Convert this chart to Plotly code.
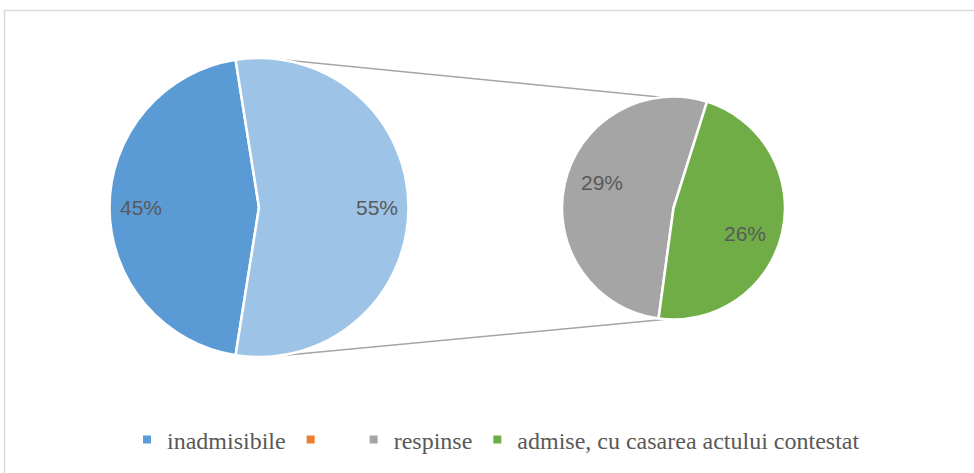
import math
import plotly.graph_objects as go

categories = ["inadmisibile", "respinse", "admise, cu casarea actului contestat"]
values = [45, 29, 26]
legend_names = ["inadmisibile", "", "respinse", "admise, cu casarea actului contestat"]
legend_colors = ["#5B9BD5", "#ED7D31", "#A5A5A5", "#70AD47"]

W, H = 974, 473
C1, R1 = (259.0, 207.5), 149.5
C2, R2 = (673.5, 208.0), 111.5

other = values[1] + values[2]
main_vals = [values[0], other]
sec_vals = [values[1], values[2]]

# angles in degrees clockwise from 12 o'clock
other_span = other / sum(main_vals) * 360
main_rot = 90 + other_span / 2           # inadmisibile starts here
green_span = values[2] / other * 360
green_start = 102.6 - green_span / 2
sec_rot = green_start + green_span       # respinse starts at end of green

def px(p):
    return p[0] / W, (H - p[1]) / H

def dom(c, r):
    x0, y0 = px((c[0] - r, c[1] + r))
    x1, y1 = px((c[0] + r, c[1] - r))
    return dict(x=[x0, x1], y=[y0, y1])

fig = go.Figure()
fig.add_trace(go.Pie(
    values=main_vals, labels=["inadmisibile", "Altele"], sort=False,
    direction="clockwise", rotation=main_rot, domain=dom(C1, R1),
    marker=dict(colors=["#5B9BD5", "#9DC3E6"], line=dict(color="white", width=2.5)),
    textinfo="none", hoverinfo="label+percent", showlegend=False))
fig.add_trace(go.Pie(
    values=sec_vals, labels=categories[1:], sort=False,
    direction="clockwise", rotation=sec_rot, domain=dom(C2, R2),
    marker=dict(colors=["#A5A5A5", "#70AD47"], line=dict(color="white", width=2.5)),
    textinfo="none", hoverinfo="label+percent", showlegend=False))

for name, col in zip(legend_names, legend_colors):
    fig.add_trace(go.Scatter(x=[None], y=[None], mode="markers", name=name if name else "\u00a0\u00a0\u00a0",
                             marker=dict(symbol="square", size=8, color=col), showlegend=True))

def pt(c, r, ang, f=1.0):
    a = math.radians(ang)
    return (c[0] + f * r * math.sin(a), c[1] - f * r * math.cos(a))

ann = []
total = sum(values)
ang = main_rot
for v in main_vals:
    span = v / sum(main_vals) * 360
    p = px(pt(C1, R1, ang + span / 2, 0.79))
    ann.append(dict(x=p[0], y=p[1], text=f"{round(v / total * 100)}%"))
    ang += span
ang = sec_rot
for v in sec_vals:
    span = v / other * 360
    p = px(pt(C2, R2, ang + span / 2 + 7, 0.68))
    ann.append(dict(x=p[0], y=p[1], text=f"{round(v / total * 100)}%"))
    ang += span
annotations = [dict(xref="paper", yref="paper", showarrow=False, xanchor="center", yanchor="middle",
                    font=dict(family="Liberation Sans", size=21, color="#595959"), **a) for a in ann]

# connector lines
green_end = green_start + green_span
lines = [(pt(C1, R1, 8.0), pt(C2, R2, green_start)),
         (pt(C1, R1, 174.0), pt(C2, R2, green_end - 4))]
shapes = []
for a, b in lines:
    pa, pb = px(a), px(b)
    shapes.append(dict(type="line", xref="paper", yref="paper", x0=pa[0], y0=pa[1], x1=pb[0], y1=pb[1],
                       line=dict(color="#A5A5A5", width=1.5), layer="below"))
bx0, by1 = px((4.5, 10.5))
shapes.append(dict(type="rect", xref="paper", yref="paper", x0=bx0, x1=1.05, y0=-0.05, y1=by1,
                   line=dict(color="#D9D9D9", width=1.5), fillcolor="rgba(0,0,0,0)", layer="below"))

lx, ly = px((496, 440))
fig.update_layout(
    width=W, height=H, margin=dict(l=0, r=0, t=0, b=0),
    paper_bgcolor="white", plot_bgcolor="white",
    xaxis=dict(visible=False), yaxis=dict(visible=False),
    showlegend=True,
    legend=dict(orientation="h", x=lx, xanchor="center", y=ly, yanchor="middle",
                font=dict(family="Times New Roman, Liberation Serif, DejaVu Serif, serif", size=24, color="#595959"),
                bgcolor="rgba(0,0,0,0)", itemclick=False, itemwidth=30),
    annotations=annotations, shapes=shapes,
)
fig.write_html("out.html", config={"displayModeBar": False},
               post_script="document.body.style.margin='0px';document.body.style.padding='0px';")
